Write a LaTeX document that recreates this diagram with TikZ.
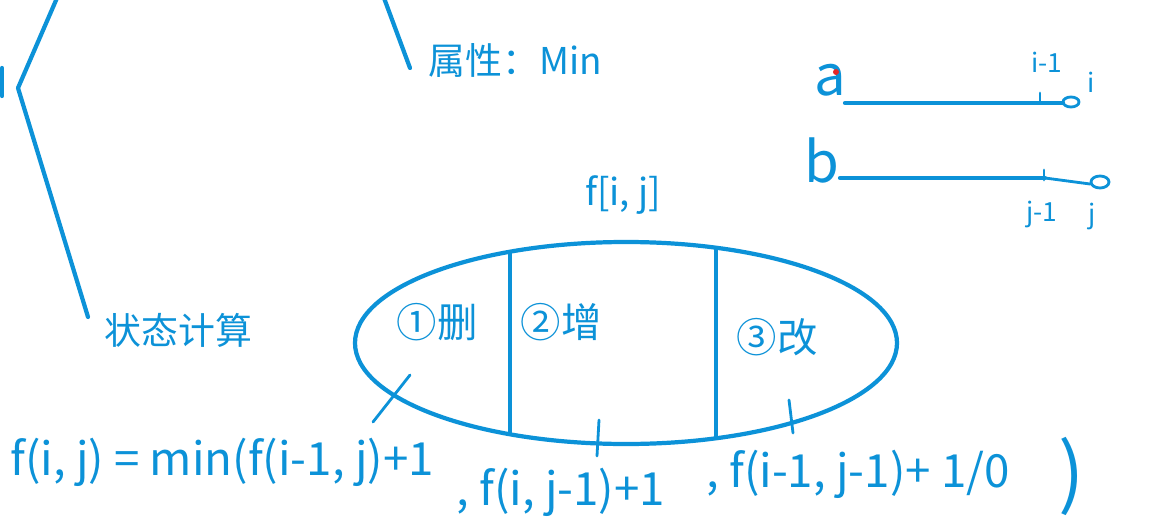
\documentclass[tikz,border=0pt]{standalone}
\usepackage{fontspec}
\setmainfont{Noto Sans CJK SC}
\newfontfamily\cjk{Noto Sans CJK SC}
\definecolor{ink}{RGB}{12,146,216}
\definecolor{laser}{RGB}{230,40,40}
\begin{document}
\begin{tikzpicture}[x=0.02cm,y=-0.02cm,
  stroke/.style={draw=ink,line width=2.4pt,line cap=round,line join=round},
  thin/.style={draw=ink,line width=1.6pt,line cap=round},
  typed/.style={text=ink,font=\cjk\fontsize{21}{25}\selectfont,inner sep=0pt},
  hand/.style={text=ink,font=\cjk\fontsize{26}{30}\selectfont,inner sep=0pt},
  cell/.style={text=ink,font=\cjk\fontsize{23}{26}\selectfont,inner sep=0pt},
  handsm/.style={text=ink,font=\cjk\fontsize{15}{18}\selectfont,inner sep=0pt}]
\useasboundingbox (0,0) rectangle (1163,527);
\fill[white] (0,0) rectangle (1163,527);

% typed labels
\node[typed,anchor=west] (attr) at (428,60) {属性：Min};
\node[typed,anchor=west] (calc) at (104,330) {状态计算};
\node[typed] (fij) at (623,195) {f[i, j]};

% bracket lines
\coordinate (vtx) at (18,88);
\coordinate (topA) at (57,-2);
\coordinate (topB) at (384,-2);
\coordinate (endA) at (88,317);
\coordinate (endB) at (410,68);
\draw[stroke] (topA) -- (vtx) -- (endA);
\draw[stroke] (topB) -- (endB);
\draw[stroke] (2,68) -- (2,96);

% ellipse with three regions
\coordinate (ec) at (626,343);
\draw[stroke] (ec) ellipse [x radius=271, y radius=101];
\begin{scope}
  \clip (ec) ellipse [x radius=271, y radius=101];
  \draw[stroke] (510,200) -- (510,480);
  \draw[stroke] (716,200) -- (716,480);
\end{scope}
\node[cell] (del) at (437,322) {①删};
\node[cell] (ins) at (561,322) {②增};
\node[cell] (chg) at (777,337) {③改};

% tick marks on ellipse
\coordinate (t1a) at (410,375); \coordinate (t1b) at (373,422);
\coordinate (t2a) at (599,420); \coordinate (t2b) at (597,456);
\coordinate (t3a) at (789,400); \coordinate (t3b) at (793,433);
\draw[thin] (t1a) -- (t1b);
\draw[thin] (t2a) -- (t2b);
\draw[thin] (t3a) -- (t3b);

% formula
\node[hand,anchor=west] (f1) at (10,462) {f(i, j) = min(f(i-1, j)+1};
\node[hand,anchor=west] (f2) at (456,492) {, f(i, j-1)+1};
\node[hand,anchor=west] (f3) at (706,474) {, f(i-1, j-1)+ 1/0};
\node[text=ink,font=\cjk\fontsize{44}{46}\selectfont,inner sep=0pt] (f4) at (1072,476) {)};

% strings a and b
\node[hand,font=\cjk\fontsize{32}{34}\selectfont] (la) at (830,80) {a};
\node[hand,font=\cjk\fontsize{32}{34}\selectfont] (lb) at (822,160) {b};
\fill[laser] (836,72) circle (3);
\coordinate (a0) at (845,103); \coordinate (a1) at (1063,103);
\coordinate (b0) at (840,178); \coordinate (b1) at (1045,178); \coordinate (b2) at (1090,184);
\draw[stroke] (a0) -- (a1);
\draw[thin] (1071,102) ellipse [x radius=8, y radius=5];
\draw[thin] (1040,93) -- (1040,103);
\draw[stroke] (b0) -- (b1);
\draw[thin] (b1) -- (b2);
\draw[thin] (1100,182) ellipse [x radius=9, y radius=6];
\draw[thin] (1044,170) -- (1044,180);
\node[handsm] (im1) at (1047,62) {i-1};
\node[handsm] (ii) at (1091,82) {i};
\node[handsm] (jm1) at (1042,214) {j-1};
\node[handsm] (jj) at (1092,216) {j};
\end{tikzpicture}
\end{document}
